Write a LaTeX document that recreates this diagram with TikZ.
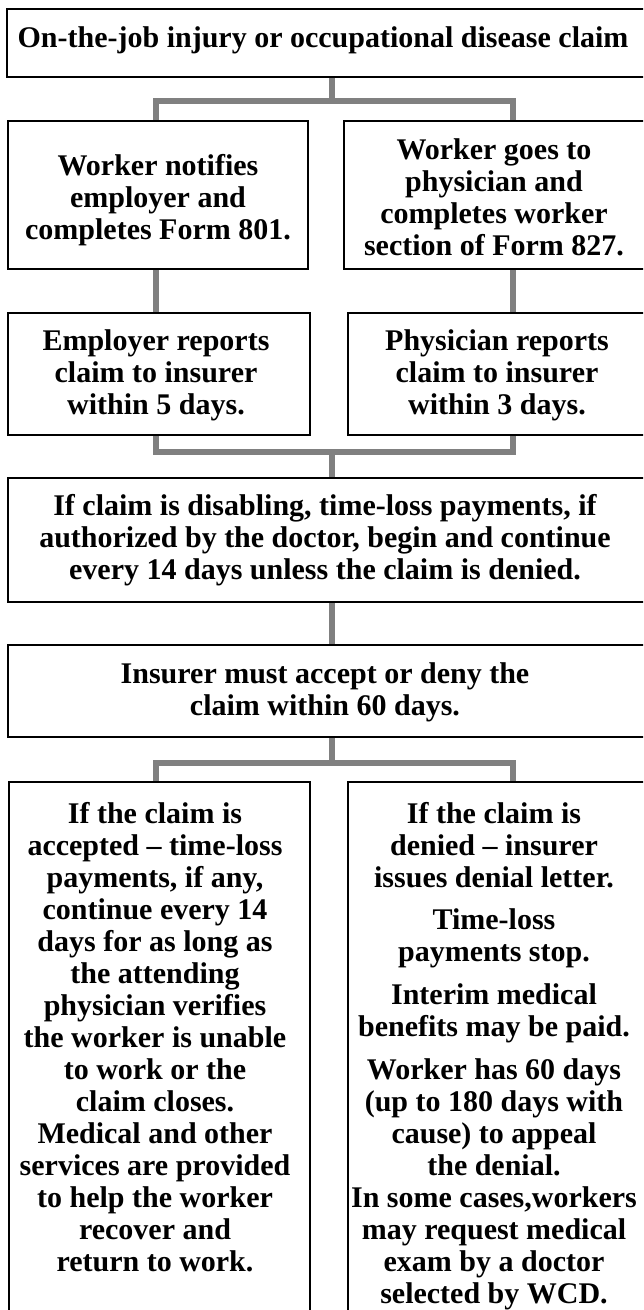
\documentclass[tikz,border=0pt]{standalone}
\usepackage{fontspec}
\setmainfont{Liberation Serif}
\usetikzlibrary{backgrounds}
\definecolor{conngray}{HTML}{808080}
\tikzset{
  box/.style={draw=black, line width=2pt, inner sep=0pt, outer sep=0pt, anchor=north west},
  conn/.style={draw=conngray, line width=6pt, line join=miter},
  txt/.style={inner sep=0pt, outer sep=0pt, anchor=base, font=\bfseries\fontsize{30}{32}\selectfont}
}
\newcommand{\tb}[2]{\parbox[t]{#1pt}{\centering #2}}
\begin{document}
\begin{tikzpicture}[x=1pt, y=-1pt]
\useasboundingbox (0,0) rectangle (643,1310);
\clip (0,0) rectangle (643,1310);
% connector x positions and junctions
\coordinate (xl) at (156,0);
\coordinate (xm) at (332,0);
\coordinate (xr) at (513,0);
\coordinate (j1) at (332,101);
\coordinate (j2) at (332,452);
\coordinate (j3) at (332,763);
% boxes
\node[box, minimum width=643pt, minimum height=68.5pt] (n1) at (7,8.5) {};
\node[box, minimum width=300.5pt, minimum height=148pt] (n2L) at (7.5,121) {};
\node[box, minimum width=306pt, minimum height=148pt] (n2R) at (344,121) {};
\node[box, minimum width=302pt, minimum height=122pt] (n3L) at (8,313) {};
\node[box, minimum width=302pt, minimum height=122pt] (n3R) at (348,313) {};
\node[box, minimum width=643pt, minimum height=124pt] (n4) at (7.5,478) {};
\node[box, minimum width=643pt, minimum height=92pt] (n5) at (7.5,645) {};
\node[box, minimum width=301pt, minimum height=540pt] (n6L) at (9,782) {};
\node[box, minimum width=302pt, minimum height=540pt] (n6R) at (348,782) {};
% connectors
\begin{scope}[on background layer]
\draw[conn] (n1.south -| xm) -- (j1);
\draw[conn] (n2L.north -| xl) |- (j1) -| (n2R.north -| xr);
\draw[conn] (n2L.south -| xl) -- (n3L.north -| xl);
\draw[conn] (n2R.south -| xr) -- (n3R.north -| xr);
\draw[conn] (n3L.south -| xl) |- (j2) -| (n3R.south -| xr);
\draw[conn] (j2) -- (n4.north -| xm);
\draw[conn] (n4.south -| xm) -- (n5.north -| xm);
\draw[conn] (n5.south -| xm) -- (j3);
\draw[conn] (n6L.north -| xl) |- (j3) -| (n6R.north -| xr);
\end{scope}
% texts
\node[txt] (t1) at (323,47) {On-the-job injury or occupational disease claim};
\node[txt] (t2L) at (158,175) {\tb{290}{Worker notifies\\employer and\\completes Form 801.}};
\node[txt] (t2R) at (494,159) {\tb{290}{Worker goes to\\physician and\\completes worker\\section of Form 827.}};
\node[txt] (t3L) at (156,350) {\tb{290}{Employer reports\\claim to insurer\\within 5 days.}};
\node[txt] (t3R) at (497,350) {\tb{290}{Physician reports\\claim to insurer\\within 3 days.}};
\node[txt] (t4) at (325,515) {\tb{630}{If claim is disabling, time-loss payments, if\\authorized by the doctor, begin and continue\\every 14 days unless the claim is denied.}};
\node[txt] (t5) at (325,683) {\tb{630}{Insurer must accept or deny the\\claim within 60 days.}};
\node[txt] (t6L) at (155,823) {\tb{295}{If the claim is\\accepted -- time-loss\\payments, if any,\\continue every 14\\days for as long as\\the attending\\physician verifies\\the worker is unable\\to work or the\\claim closes.\\Medical and other\\services are provided\\to help the worker\\recover and\\return to work.}};
\node[txt] (t6R) at (494,823) {\tb{295}{If the claim is\\denied -- insurer\\issues denial letter.\\[10pt]Time-loss\\payments stop.\\[11pt]Interim medical\\benefits may be paid.\\[11pt]Worker has 60 days\\(up to 180 days with\\cause) to appeal\\the denial.\\In some cases,workers\\may request medical\\exam by a doctor\\selected by WCD.}};
\end{tikzpicture}
\end{document}
